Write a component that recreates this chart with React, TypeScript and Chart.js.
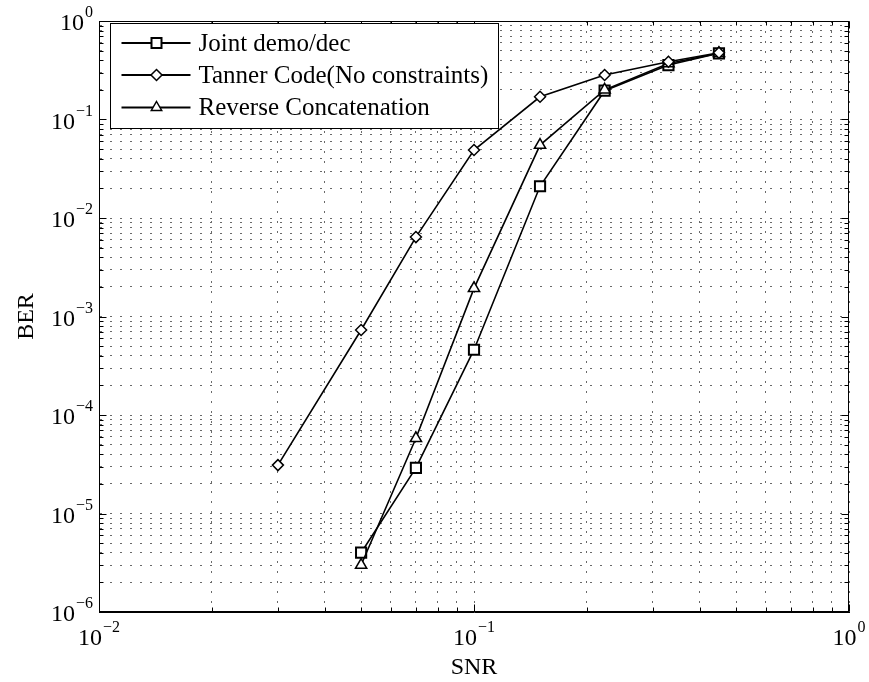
import React, { useEffect, useRef } from 'react';
import { Chart, registerables } from 'chart.js';

Chart.register(...registerables);

// ---- data ----
const seriesNames = ['Joint demo/dec', 'Tanner Code(No constraints)', 'Reverse Concatenation'];
const jointSNR = [0.05, 0.07, 0.1, 0.15, 0.223, 0.33, 0.45];
const jointBER = [4.0e-6, 2.9e-5, 4.6e-4, 0.021, 0.196, 0.357, 0.47];
const tannerSNR = [0.03, 0.05, 0.07, 0.1, 0.15, 0.223, 0.33, 0.45];
const tannerBER = [3.1e-5, 7.3e-4, 6.4e-3, 0.049, 0.17, 0.283, 0.386, 0.477];
const reverseSNR = [0.05, 0.07, 0.1, 0.15, 0.223, 0.33, 0.45];
const reverseBER = [3.0e-6, 5.8e-5, 1.93e-3, 0.055, 0.2, 0.37, 0.47];
const xExponents = [-2, -1, 0];
const yExponents = [-6, -5, -4, -3, -2, -1, 0];
const xTitle = 'SNR';
const yTitle = 'BER';

const FONT = '"Liberation Serif", "Times New Roman", serif';
const markerStyles = ['square', 'diamond', 'triangle'];

function logTicks(exps: number[]) {
  const out: number[] = [];
  for (let i = 0; i < exps.length; i++) {
    const e = exps[i];
    if (i === exps.length - 1) {
      out.push(Math.pow(10, e));
    } else {
      for (let m = 1; m <= 9; m++) out.push(m * Math.pow(10, e));
    }
  }
  return out;
}

function isMajor(v: number) {
  const l = Math.log10(v);
  return Math.abs(l - Math.round(l)) < 1e-9;
}

function drawMarker(ctx: CanvasRenderingContext2D, style: string, x: number, y: number) {
  ctx.save();
  ctx.fillStyle = '#fff';
  ctx.strokeStyle = '#000';
  ctx.beginPath();
  if (style === 'square') {
    ctx.lineWidth = 2;
    ctx.rect(x - 5, y - 5, 10, 10);
  } else if (style === 'diamond') {
    ctx.lineWidth = 1.5;
    const r = 5.5;
    ctx.moveTo(x, y - r);
    ctx.lineTo(x + r, y);
    ctx.lineTo(x, y + r);
    ctx.lineTo(x - r, y);
    ctx.closePath();
  } else {
    ctx.lineWidth = 1.5;
    const r = 6;
    ctx.moveTo(x, y - r);
    ctx.lineTo(x + r * 0.866, y + r * 0.5);
    ctx.lineTo(x - r * 0.866, y + r * 0.5);
    ctx.closePath();
  }
  ctx.fill();
  ctx.stroke();
  ctx.restore();
}

function expText(e: number) {
  return e < 0 ? '\u2212' + String(-e) : String(e);
}

const decorPlugin = {
  id: 'decor',
  afterDraw(chart: any) {
    const { ctx, chartArea: a, scales } = chart;
    const xs = scales.x;
    const ys = scales.y;
    const L = Math.round(a.left) + 0.5;
    const R = Math.round(a.right) - 0.5;
    const T = Math.round(a.top) + 0.5;
    const B = Math.round(a.bottom) - 0.5;
    ctx.save();
    ctx.strokeStyle = '#000';
    ctx.lineWidth = 1;
    ctx.setLineDash([]);
    ctx.strokeRect(L, T, R - L, B - T);

    // inward ticks
    ctx.beginPath();
    for (const v of logTicks(xExponents)) {
      const px = Math.round(xs.getPixelForValue(v)) + 0.5;
      const len = isMajor(v) ? 7 : 4;
      ctx.moveTo(px, B);
      ctx.lineTo(px, B - len);
      ctx.moveTo(px, T);
      ctx.lineTo(px, T + len);
    }
    for (const v of logTicks(yExponents)) {
      const py = Math.round(ys.getPixelForValue(v)) + 0.5;
      const len = isMajor(v) ? 7 : 4;
      ctx.moveTo(L, py);
      ctx.lineTo(L + len, py);
      ctx.moveTo(R, py);
      ctx.lineTo(R - len, py);
    }
    ctx.stroke();

    // tick labels
    ctx.fillStyle = '#000';
    ctx.textBaseline = 'alphabetic';
    ctx.textAlign = 'left';
    for (const e of xExponents) {
      const px = xs.getPixelForValue(Math.pow(10, e));
      ctx.font = `24px ${FONT}`;
      const w1 = ctx.measureText('10').width;
      ctx.font = `16px ${FONT}`;
      const es = expText(e);
      const w2 = ctx.measureText(es).width;
      const x0 = px - (w1 + 1 + w2) / 2;
      ctx.font = `24px ${FONT}`;
      ctx.fillText('10', x0, a.bottom + 33);
      ctx.font = `16px ${FONT}`;
      ctx.fillText(es, x0 + w1 + 1, a.bottom + 20);
    }
    for (const e of yExponents) {
      const py = ys.getPixelForValue(Math.pow(10, e));
      ctx.font = `24px ${FONT}`;
      const w1 = ctx.measureText('10').width;
      ctx.font = `16px ${FONT}`;
      const es = expText(e);
      const w2 = ctx.measureText(es).width;
      const xr = a.left - 6;
      const x0 = xr - w2 - 1 - w1;
      ctx.font = `24px ${FONT}`;
      ctx.fillText('10', x0, py + 9);
      ctx.font = `16px ${FONT}`;
      ctx.fillText(es, x0 + w1 + 1, py - 4);
    }

    // axis titles
    ctx.font = `24px ${FONT}`;
    ctx.textAlign = 'center';
    ctx.fillText(xTitle, (a.left + a.right) / 2, a.bottom + 62);
    ctx.save();
    ctx.translate(33, (a.top + a.bottom) / 2);
    ctx.rotate(-Math.PI / 2);
    ctx.fillText(yTitle, 0, 0);
    ctx.restore();

    // legend
    const bx = Math.round(a.left) + 11.5;
    const by = Math.round(a.top) + 2.5;
    const bw = 388;
    const bh = 105;
    ctx.fillStyle = '#fff';
    ctx.fillRect(bx, by, bw, bh);
    ctx.strokeStyle = '#000';
    ctx.lineWidth = 1;
    ctx.strokeRect(bx, by, bw, bh);
    const rowY = [by + 19.5, by + 51.5, by + 84];
    for (let i = 0; i < seriesNames.length; i++) {
      const y = rowY[i];
      ctx.beginPath();
      ctx.lineWidth = 1.8;
      ctx.strokeStyle = '#000';
      ctx.moveTo(bx + 11, y);
      ctx.lineTo(bx + 80, y);
      ctx.stroke();
      drawMarker(ctx, markerStyles[i], bx + 46, y);
      ctx.fillStyle = '#000';
      ctx.font = `25px ${FONT}`;
      ctx.textAlign = 'left';
      ctx.textBaseline = 'middle';
      ctx.fillText(seriesNames[i], bx + 88, y + 1);
    }
    ctx.restore();
  },
};

function makePoints(xv: number[], yv: number[]) {
  return xv.map((x, i) => ({ x, y: yv[i] }));
}

export default function App() {
  const ref = useRef<HTMLCanvasElement | null>(null);
  useEffect(() => {
    document.body.style.margin = '0';
    document.body.style.overflow = 'hidden';
    const canvas = ref.current;
    if (!canvas) return;
    const common = {
      borderColor: '#000',
      borderWidth: 1.6,
      pointBackgroundColor: '#fff',
      pointBorderColor: '#000',
      showLine: true,
      fill: false,
      tension: 0,
    };
    const gridColor = '#6a6a6a';
    const chart = new Chart(canvas, {
      type: 'scatter',
      data: {
        datasets: [
          {
            ...common,
            label: seriesNames[1],
            data: makePoints(tannerSNR, tannerBER),
            pointStyle: 'rectRot',
            pointRadius: 5.5,
            pointBorderWidth: 1.5,
          },
          {
            ...common,
            label: seriesNames[2],
            data: makePoints(reverseSNR, reverseBER),
            pointStyle: 'triangle',
            pointRadius: 6.5,
            pointBorderWidth: 1.5,
          },
          {
            ...common,
            label: seriesNames[0],
            data: makePoints(jointSNR, jointBER),
            pointStyle: 'rect',
            pointRadius: 7.2,
            pointBorderWidth: 2,
          },
        ],
      },
      options: {
        responsive: false,
        animation: false,
        devicePixelRatio: 1,
        layout: { padding: { left: 99, right: 20, top: 21, bottom: 70 } },
        plugins: { legend: { display: false }, tooltip: { enabled: false } },
        scales: {
          x: {
            type: 'logarithmic',
            min: 0.01,
            max: 1,
            afterBuildTicks: (scale: any) => {
              scale.ticks = logTicks(xExponents).map((v) => ({ value: v }));
            },
            ticks: { display: false },
            grid: { color: gridColor, lineWidth: 1, drawTicks: false },
            border: { display: true, color: '#000', width: 1, dash: [2, 8] },
          },
          y: {
            type: 'logarithmic',
            min: 1e-6,
            max: 1,
            afterBuildTicks: (scale: any) => {
              scale.ticks = logTicks(yExponents).map((v) => ({ value: v }));
            },
            ticks: { display: false },
            grid: { color: gridColor, lineWidth: 1, drawTicks: false },
            border: { display: true, color: '#000', width: 1, dash: [2, 8] },
          },
        },
      },
      plugins: [decorPlugin],
    } as any);
    return () => chart.destroy();
  }, []);
  return (
    <div style={{ width: 869, height: 682, background: '#fff' }}>
      <canvas ref={ref} width={869} height={682} style={{ display: 'block', width: 869, height: 682 }} />
    </div>
  );
}
